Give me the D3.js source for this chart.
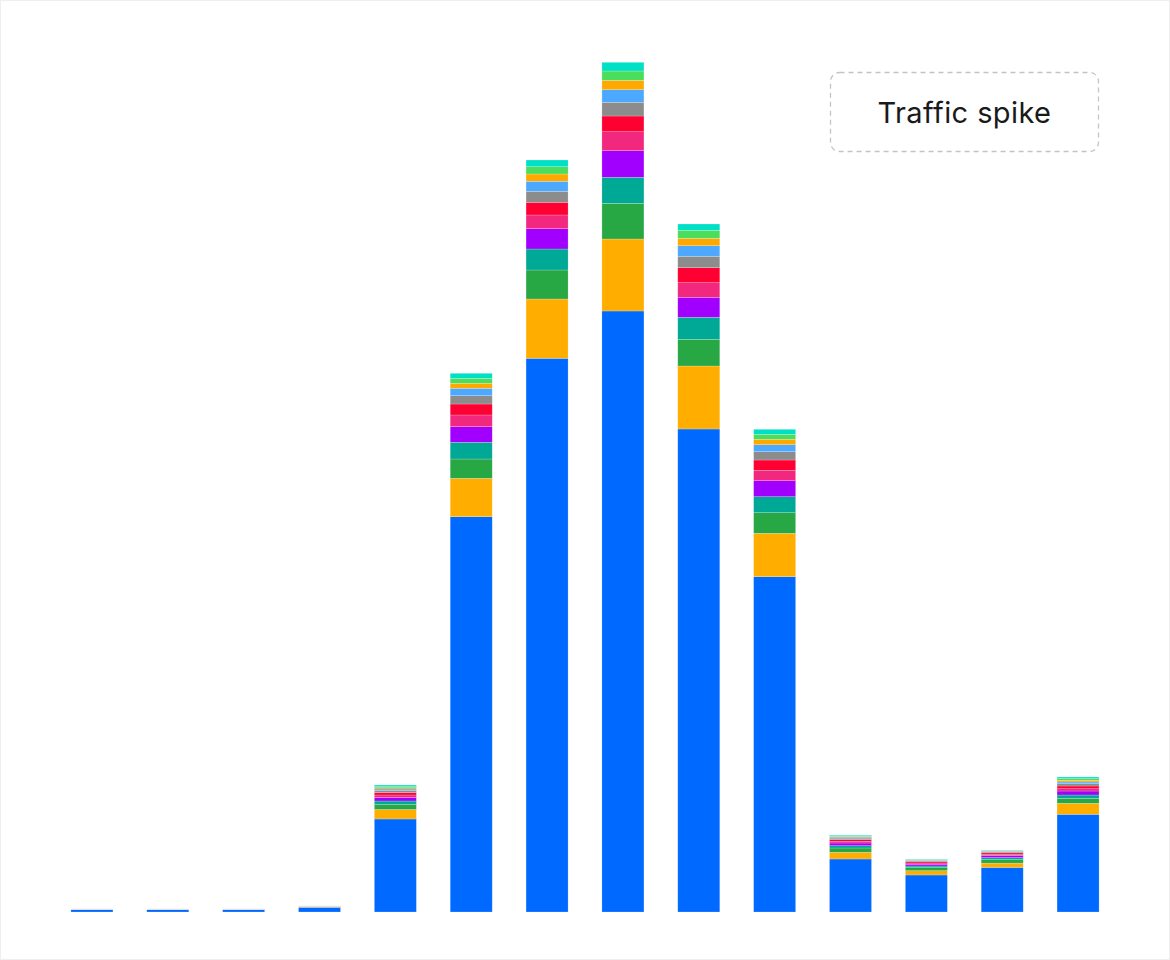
<!DOCTYPE html>
<html>
<head>
<meta charset="utf-8">
<script src="https://cdn.jsdelivr.net/npm/d3@7"></script>
<style>
  html, body { margin: 0; padding: 0; background: #fff; }
  svg { display: block; }
</style>
</head>
<body>
<svg id="chart" width="1170" height="960"></svg>
<script>
// time buckets (no axis shown in the original)
var periods = ["t01", "t02", "t03", "t04", "t05", "t06", "t07", "t08", "t09", "t10", "t11", "t12", "t13", "t14"];

// one array per stacked series, bottom to top
var s01 = [2.5, 2.5, 2.5, 4.7, 93, 395.3, 553.7, 601, 483, 335.3, 53, 37, 44.6, 97.7];
var s02 = [0.2, 0.2, 0.2, 0.4, 9.5, 38.4, 59.3, 72, 63, 43.4, 6.7, 4.3, 4.3, 11];
var s03 = [0.1, 0.1, 0.1, 0.2, 5, 19.3, 29, 35.7, 26.7, 20.6, 4.3, 3, 3.5, 5];
var s04 = [0.05, 0.05, 0.05, 0.15, 3.5, 16.7, 21, 26, 22, 16, 2.3, 1.7, 2, 3.3];
var s05 = [0.05, 0.05, 0.05, 0.15, 3.5, 15.6, 20.3, 26.6, 20, 16, 2.7, 1.8, 2, 4];
var s06 = [0.05, 0.05, 0.05, 0.1, 2.5, 11.7, 13.7, 19, 14.6, 10.4, 1.7, 1.2, 1.4, 2.3];
var s07 = [0.05, 0.05, 0.05, 0.1, 2.5, 11, 12.7, 15.7, 15, 10.3, 1.7, 1.2, 1.4, 2.7];
var s08 = [0.05, 0.05, 0.05, 0.1, 2, 8.3, 11, 13.7, 11.4, 8.3, 1.5, 1, 1, 2.3];
var s09 = [0.02, 0.02, 0.02, 0.05, 1.5, 7.4, 10, 12.6, 10.6, 7, 1, 0.7, 0.7, 1.7];
var s10 = [0.02, 0.02, 0.02, 0.05, 1.2, 5, 7.3, 9.4, 7.4, 5.4, 0.8, 0.5, 0.4, 1.7];
var s11 = [0.02, 0.02, 0.02, 0.05, 1.3, 5, 7.3, 9.3, 8, 5, 0.7, 0.3, 0.4, 1.7];
var s12 = [0.02, 0.02, 0.02, 0.05, 1.5, 5, 6.7, 8.7, 6.3, 5, 0.6, 0.3, 0.3, 1.6];

var seriesKeys = ["s01", "s02", "s03", "s04", "s05", "s06", "s07", "s08", "s09", "s10", "s11", "s12"];
var seriesValues = [s01, s02, s03, s04, s05, s06, s07, s08, s09, s10, s11, s12];
var seriesColors = ["#0069FF", "#FFAE00", "#28A745", "#00A896", "#A100FF", "#F2277E",
                    "#FF0033", "#8C8C8C", "#4DA9FF", "#FFA800", "#4ADE5C", "#00E0C6"];

var annotationText = "Traffic spike";

var W = 1170, H = 960;
var BASE = 912, TOP = 62;

var svg = d3.select("#chart");

// faint frame round the picture
svg.append("rect")
  .attr("x", 0.5).attr("y", 0.5)
  .attr("width", W - 1).attr("height", H - 1)
  .attr("fill", "#fff")
  .attr("stroke", "#efefef")

// table for d3.stack
var rows = periods.map(function (p, i) {
  var r = { period: p };
  seriesKeys.forEach(function (k, j) { r[k] = seriesValues[j][i]; });
  return r;
});

var stacked = d3.stack().keys(seriesKeys)(rows);

var x = d3.scaleBand()
  .domain(periods)
  .range([54, 1116])
  .paddingInner(0.446)
  .paddingOuter(0.223);

var y = d3.scaleLinear()
  .domain([0, 850])
  .range([BASE, TOP]);

var color = d3.scaleOrdinal().domain(seriesKeys).range(seriesColors);

svg.append("g")
  .selectAll("g")
  .data(stacked)
  .join("g")
    .attr("fill", function (d) { return color(d.key); })
  .selectAll("rect")
  .data(function (d) { return d; })
  .join("rect")
    .attr("x", function (d) { return x(d.data.period); })
    .attr("y", function (d) { return y(d[1]); })
    .attr("width", x.bandwidth())
    .attr("height", function (d) { return Math.max(0, y(d[0]) - y(d[1])); })
    .attr("stroke", "#fff")
    .attr("stroke-opacity", 0.35)
    .attr("stroke-width", 0.6);

// annotation box
var note = svg.append("g").attr("transform", "translate(830,72)");
note.append("rect")
  .attr("x", 0.5).attr("y", 0.5)
  .attr("width", 268).attr("height", 79)
  .attr("rx", 9)
  .attr("fill", "#fff")
  .attr("stroke", "#c4c4c4")
  .attr("stroke-width", 1.3)
  .attr("stroke-dasharray", "5,4");
note.append("text")
  .attr("x", 134.5).attr("y", 40)
  .attr("text-anchor", "middle")
  .attr("dominant-baseline", "central")
  .attr("font-family", "Inter, 'Noto Sans', sans-serif")
  .attr("font-size", 29)
  .attr("letter-spacing", 0.4)
  .attr("fill", "#1a1a1a")
  .text(annotationText);
</script>
</body>
</html>
